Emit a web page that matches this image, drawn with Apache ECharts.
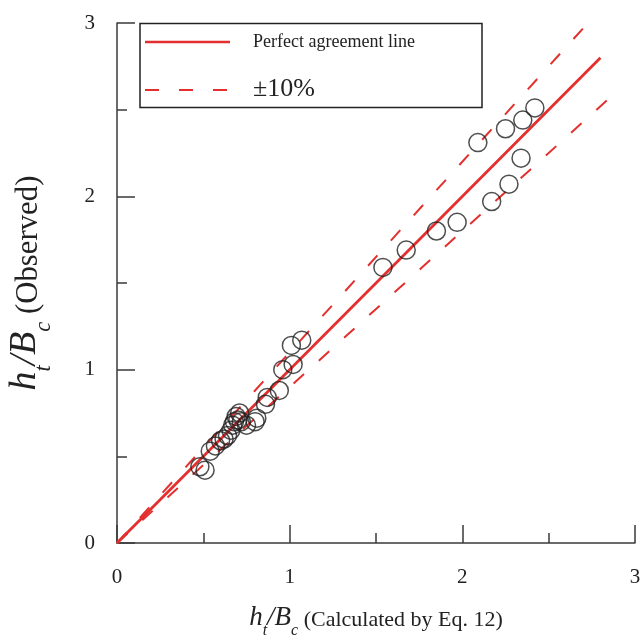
<!DOCTYPE html>
<html>
	<head>
		<meta charset="utf-8">
		<title></title>
		<style type="text/css">
			* {
				margin: 0;
				padding: 0;
			}

			#main {
				width: 642px;
				height: 641px;
				background: #fff;
			}
		</style>
		<script src="https://cdn.jsdelivr.net/npm/echarts@6/dist/echarts.min.js"></script>
	</head>
	<body>
		<div id="main"></div>
	</body>
	<script type="text/javascript">
		// calculated (Eq. 12) vs observed h_t/B_c
		var calculated = [0.48, 0.51, 0.54, 0.57, 0.60, 0.62, 0.64, 0.66, 0.67, 0.68, 0.69, 0.70, 0.71, 0.72, 0.75, 0.80, 0.81,
			0.86, 0.87, 0.94, 0.96, 1.02, 1.01, 1.07, 1.54, 1.675, 1.85, 1.97, 2.17, 2.27, 2.34, 2.09, 2.25, 2.35, 2.42];
		var observed = [0.44, 0.42, 0.53, 0.56, 0.59, 0.60, 0.62, 0.65, 0.68, 0.70, 0.73, 0.71, 0.75, 0.70, 0.68, 0.70, 0.72,
			0.80, 0.84, 0.88, 1.00, 1.03, 1.14, 1.17, 1.59, 1.69, 1.80, 1.85, 1.97, 2.07, 2.22, 2.31, 2.39, 2.44, 2.51];
		// reference lines
		var perfectLine = [[0, 0], [2.8, 2.8]];
		var upperLine = [[0, 0], [2.72, 2.992]];
		var lowerLine = [[0, 0], [2.85, 2.565]];
		var tickLabels = ['0', '1', '2', '3'];

		var pts = [];
		for (var i = 0; i < calculated.length; i++) {
			pts.push([calculated[i], observed[i]]);
		}

		var serif = "'Liberation Serif', 'Times New Roman', serif";
		var red = '#e3302f';
		var axisCol = '#3a3a3a';

		function nameRich(k) {
			return {
				i: { fontFamily: serif, fontStyle: 'italic', fontSize: 27 * k, color: '#222', lineHeight: 32 * k, verticalAlign: 'bottom' },
				sub: { fontFamily: serif, fontStyle: 'italic', fontSize: 16 * k, color: '#222', lineHeight: 32 * k, verticalAlign: 'bottom', padding: [0, 0, -8 * k, 0] },
				n: { fontFamily: serif, fontSize: 22 * k, color: '#222', lineHeight: 32 * k, verticalAlign: 'bottom' }
			};
		}

		function axis(name, gap, labelMargin, k) {
			return {
				type: 'value',
				min: 0,
				max: 3,
				interval: 1,
				name: name,
				nameLocation: 'middle',
				nameGap: gap,
				nameTextStyle: { rich: nameRich(k) },
				axisLine: { show: true, lineStyle: { color: axisCol, width: 1.5 } },
				axisTick: { show: true, inside: true, length: 18, lineStyle: { color: axisCol, width: 1.5 } },
				minorTick: { show: true, splitNumber: 2, length: 10, lineStyle: { color: axisCol, width: 1.5 } },
				splitLine: { show: false },
				axisLabel: {
					margin: labelMargin,
					fontFamily: serif,
					fontSize: 21,
					color: '#222',
					formatter: function(v) { return tickLabels[Math.round(v)]; }
				}
			};
		}

		var chart = echarts.init(document.getElementById('main'));
		var option = {
			backgroundColor: '#fff',
			animation: false,
			grid: { left: 117, right: 7, top: 23, bottom: 98, outerBoundsMode: 'none', containLabel: false },
			xAxis: axis('{i|h}{sub|t}{i|/B}{sub|c}{n| (Calculated by Eq. 12)}', 56, 24, 1),
			yAxis: axis('{i|h}{sub|t}{i|/B}{sub|c}{n| (Observed)}', 73, 22, 1.4),
			graphic: [
				{ type: 'rect', shape: { x: 140, y: 23.5, width: 342, height: 84 }, style: { fill: '#fff', stroke: '#222', lineWidth: 1.5 }, z: 10 },
				{ type: 'line', shape: { x1: 145, y1: 42, x2: 230, y2: 42 }, style: { stroke: red, lineWidth: 2.5 }, z: 11 },
				{ type: 'line', shape: { x1: 145, y1: 90, x2: 232, y2: 90 }, style: { stroke: red, lineWidth: 2, lineDash: [14, 20] }, z: 11 },
				{ type: 'text', x: 253, y: 42, style: { text: 'Perfect agreement line', font: '18px ' + serif, fill: '#222', verticalAlign: 'middle' }, z: 11 },
				{ type: 'text', x: 253, y: 89, style: { text: '±10%', font: '26px ' + serif, fill: '#222', verticalAlign: 'middle' }, z: 11 }
			],
			series: [
				{
					name: 'Perfect agreement line',
					type: 'line',
					data: perfectLine,
					symbol: 'none',
					lineStyle: { color: red, width: 2.8 },
					z: 3
				},
				{
					name: '+10%',
					type: 'line',
					data: upperLine,
					symbol: 'none',
					lineStyle: { color: red, width: 2, type: [14, 20] },
					z: 3
				},
				{
					name: '-10%',
					type: 'line',
					data: lowerLine,
					symbol: 'none',
					lineStyle: { color: red, width: 2, type: [14, 20] },
					z: 3
				},
				{
					name: 'Data',
					type: 'scatter',
					data: pts,
					symbol: 'circle',
					symbolSize: 18,
					itemStyle: { color: 'rgba(0,0,0,0)', borderColor: '#222', borderWidth: 1.5 },
					z: 4
				}
			]
		};
		chart.setOption(option);
	</script>
</html>
